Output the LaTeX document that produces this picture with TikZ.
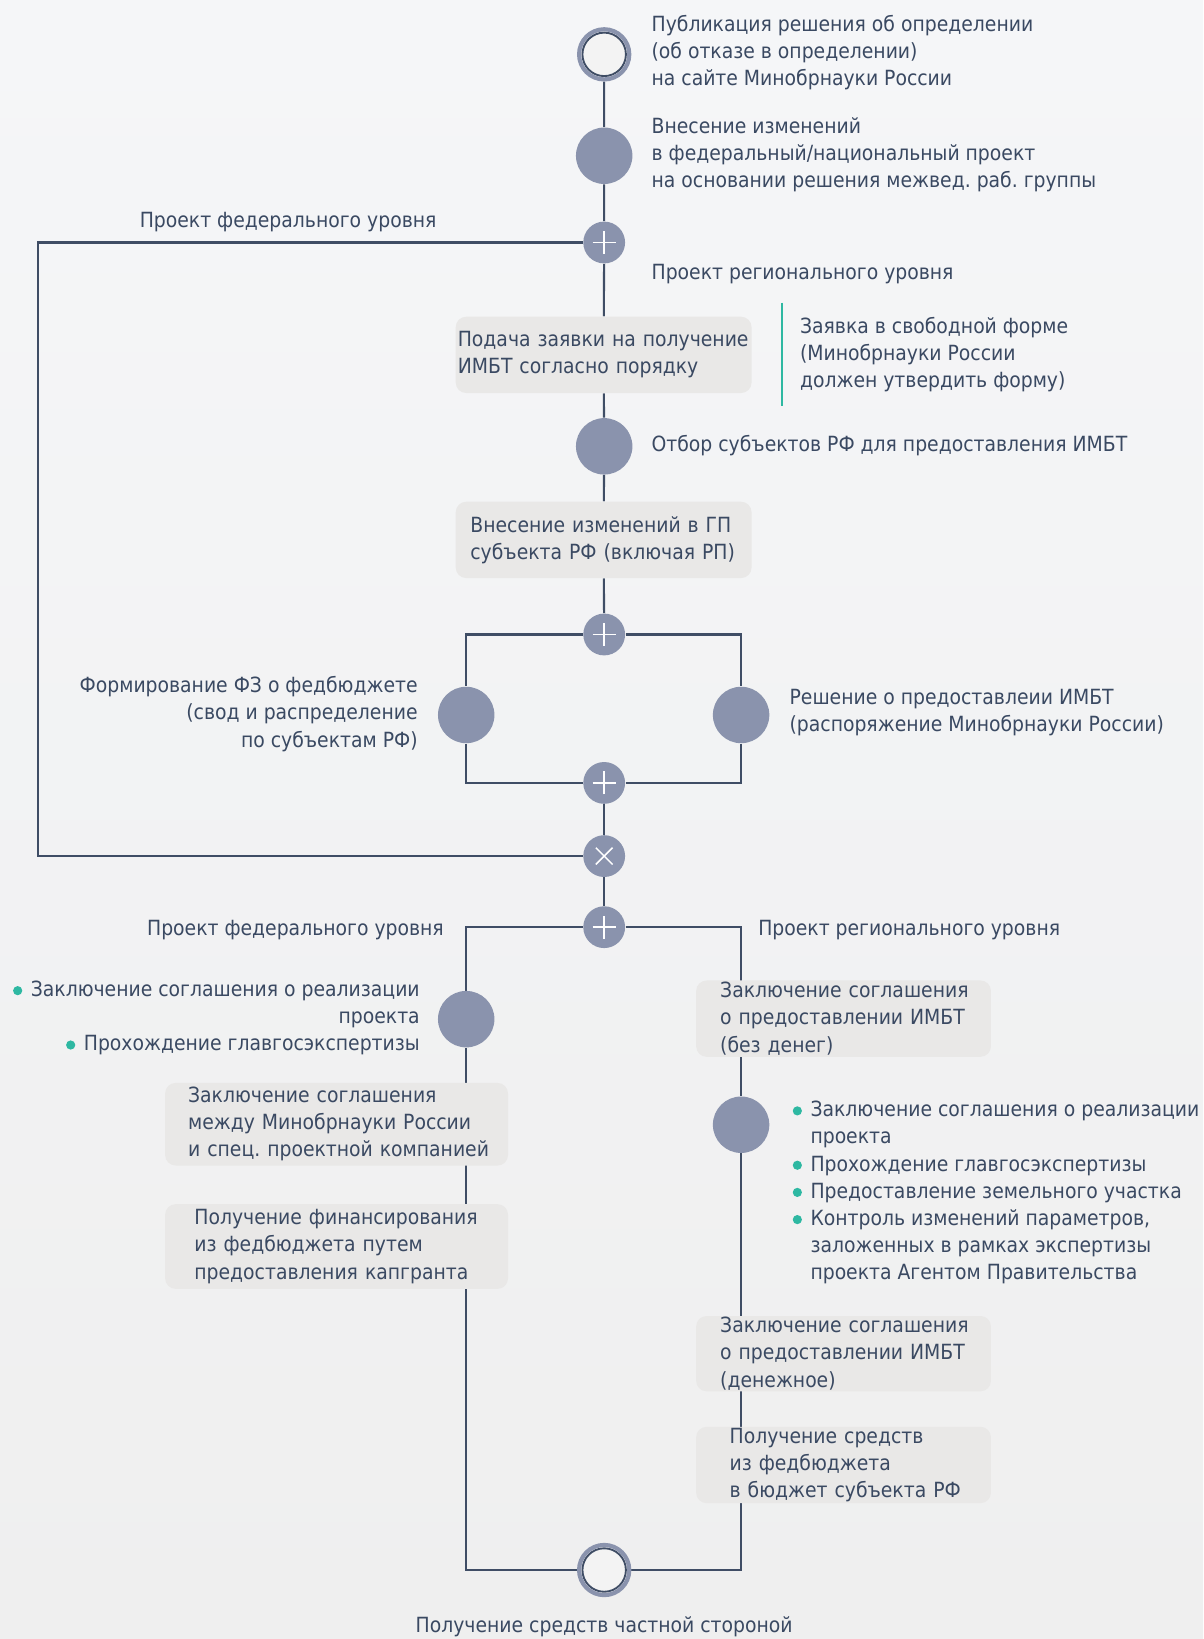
\documentclass[tikz,border=0pt]{standalone}
\usepackage{fontspec}
\setmainfont{DejaVu Sans Condensed}
\frenchspacing

\definecolor{linec}{HTML}{3F4D65}
\definecolor{circc}{HTML}{8A93AD}
\definecolor{boxc}{HTML}{E9E8E7}
\definecolor{textc}{HTML}{3A4962}
\definecolor{tealc}{HTML}{2EB8A2}
\definecolor{bgtop}{HTML}{F5F6F8}
\definecolor{bgbot}{HTML}{EFEFEF}
\definecolor{evfill}{HTML}{F3F3F3}

\pgfdeclarelayer{back}
\pgfdeclarelayer{wires}
\pgfsetlayers{back,wires,main}

\newcommand{\dotb}{\makebox[8.5pt][l]{\tikz[baseline=-0.28em]\fill[tealc] (0,0) circle (2.2pt);}}
\newcommand{\hang}{\hspace*{8.5pt}}

\tikzset{
  flow/.style={draw=linec, line width=1pt},
  lbl/.style={inner sep=0pt},
  event/.style={circle, fill=circc, minimum size=27pt, inner sep=0pt},
  termev/.style={circle, fill=evfill, draw=circc, line width=2pt, minimum size=24pt, inner sep=0pt,
    path picture={\draw[linec, line width=0.9pt] (path picture bounding box.center) circle (10.4pt);}},
  gate/.style={circle, fill=circc, minimum size=20pt, inner sep=0pt},
  plusgate/.style={gate, path picture={
    \draw[white, line width=0.7pt] ([xshift=-5.5pt]path picture bounding box.center) -- ([xshift=5.5pt]path picture bounding box.center);
    \draw[white, line width=0.7pt] ([yshift=-5.5pt]path picture bounding box.center) -- ([yshift=5.5pt]path picture bounding box.center);}},
  xgate/.style={gate, path picture={
    \draw[white, line width=0.7pt] ([shift={(-4pt,-4pt)}]path picture bounding box.center) -- ([shift={(4pt,4pt)}]path picture bounding box.center);
    \draw[white, line width=0.7pt] ([shift={(-4pt,4pt)}]path picture bounding box.center) -- ([shift={(4pt,-4pt)}]path picture bounding box.center);}},
  taskbox/.style 2 args={rectangle, rounded corners=5pt, fill=boxc, inner xsep=0pt, inner ysep=0pt,
    text width=#1, minimum height=36.5pt, align=left, execute at begin node={\leftskip=#2\relax}},
}

\begin{document}
\begin{tikzpicture}[x=0.5pt, y=-0.5pt, font=\fontsize{10pt}{13pt}\selectfont, text=textc]
  % Background
  \begin{pgfonlayer}{back}
    \shade[top color=bgtop, bottom color=bgbot] (0,0) rectangle (1151,1568);
  \end{pgfonlayer}
  \useasboundingbox (0,0) rectangle (1151,1568);

  % Upper part
  \node[termev] (start) at (578,52) {};
  \node[event] (vnes) at (578,149) {};
  \node[plusgate] (gsplit) at (578,232) {};
  \node[taskbox={141.5pt}{1pt}] (podacha) at (577.5,339.5) {Подача заявки на получение\\ИМБТ согласно порядку};
  \node[event] (otbor) at (578,427) {};
  \node[taskbox={141.5pt}{7pt}] (gp) at (577.5,516.5) {Внесение изменений в ГП\\субъекта РФ (включая РП)};
  \node[plusgate] (gpar) at (578,607) {};
  \node[event] (fz) at (446,684) {};
  \node[event] (resh) at (709,684) {};
  \node[plusgate] (gjoin) at (578,749) {};
  \node[xgate] (gx) at (578,819) {};

  % Lower part
  \node[plusgate] (gfin) at (578,887) {};
  \node[event] (fedev) at (446,975) {};
  \node[taskbox={164pt}{11pt}, minimum height=39.5pt] (spk) at (322,1075.5) {Заключение соглашения\\между Минобрнауки России\\и спец. проектной компанией};
  \node[taskbox={164pt}{14pt}, minimum height=40.5pt] (kapgr) at (322,1192.5) {Получение финансирования\\из федбюджета путем\\предоставления капгранта};
  \node[taskbox={141pt}{11.5pt}] (imbt) at (807,974.5) {Заключение соглашения\\о предоставлении ИМБТ\\(без денег)};
  \node[event] (regev) at (709,1076) {};
  \node[taskbox={141pt}{11.5pt}, minimum height=36pt] (imbtd) at (807,1295) {Заключение соглашения\\о предоставлении ИМБТ\\(денежное)};
  \node[taskbox={141pt}{16pt}] (sredst) at (807,1401.5) {Получение средств\\из федбюджета\\в бюджет субъекта РФ};
  \node[termev] (finish) at (578,1502) {};

  % Points
  \coordinate (loop) at (36,526);
  \coordinate (lbot) at (446,1502);
  \coordinate (rbot) at (709,1502);

  % Drawing
  \begin{pgfonlayer}{wires}
    \draw[flow] (start) -- (vnes) -- (gsplit) -- (podacha) -- (otbor) -- (gp) -- (gpar);
    \draw[flow] (gsplit) -| (loop) |- (gx);
    \draw[flow] (gpar) -| (fz) |- (gjoin);
    \draw[flow] (gpar) -| (resh) |- (gjoin);
    \draw[flow] (gjoin) -- (gx) -- (gfin);
    \draw[flow] (gfin) -| (fedev) -- (lbot) -- (finish);
    \draw[flow] (gfin) -| (regev) -- (rbot) -- (finish);
  \end{pgfonlayer}

  % Labels
  \node[lbl, anchor=west, align=left] (tstart) at (623,50) {Публикация решения об определении\\(об отказе в определении)\\на сайте Минобрнауки России};
  \node[lbl, anchor=west, align=left] (tvnes) at (623,148) {Внесение изменений\\в федеральный/национальный проект\\на основании решения межвед. раб. группы};
  \node[lbl, anchor=east] (tfed) at (418,212) {Проект федерального уровня};
  \node[lbl, anchor=west] (treg) at (623,262) {Проект регионального уровня};
  \node[lbl, anchor=west, align=left, minimum height=49pt, inner xsep=8.5pt] (note) at (748,339) {Заявка в свободной форме\\(Минобрнауки России\\должен утвердить форму)};
  \draw[tealc, line width=1pt] (note.north west) -- (note.south west);
  \node[lbl, anchor=west] (totbor) at (623,426) {Отбор субъектов РФ для предоставления ИМБТ};
  \node[lbl, anchor=east, align=right] (tfz) at (400,683) {Формирование ФЗ о федбюджете\\(свод и распределение\\по субъектам РФ)};
  \node[lbl, anchor=west, align=left] (tresh) at (755,682) {Решение о предоставлеии ИМБТ\\(распоряжение Минобрнауки России)};
  \node[lbl, anchor=east] (tfed2) at (425,890) {Проект федерального уровня};
  \node[lbl, anchor=west] (treg2) at (725,890) {Проект регионального уровня};
  \node[lbl, anchor=east, align=right] (tfedev) at (402,974) {\dotb Заключение соглашения о реализации\\проекта\\\dotb Прохождение главгосэкспертизы};
  \node[lbl, anchor=west, align=left] (tregev) at (758,1141) {\dotb Заключение соглашения о реализации\\\hang проекта\\\dotb Прохождение главгосэкспертизы\\\dotb Предоставление земельного участка\\\dotb Контроль изменений параметров,\\\hang заложенных в рамках экспертизы\\\hang проекта Агентом Правительства};
  \node[lbl] (tfinish) at (578,1556) {Получение средств частной стороной};
\end{tikzpicture}
\end{document}
